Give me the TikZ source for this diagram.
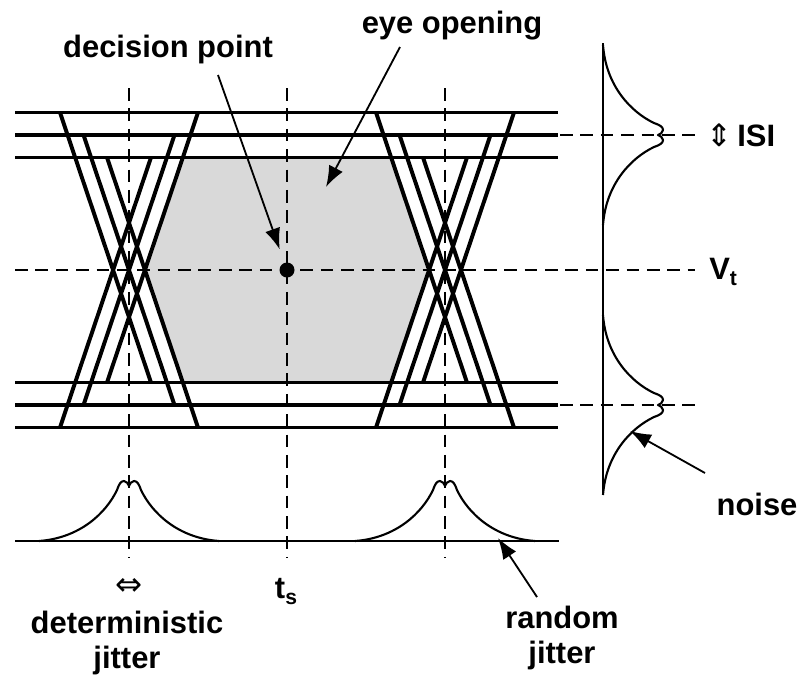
\documentclass[tikz,border=0pt]{standalone}
\usepackage{fontspec}
\setmainfont{Liberation Sans}
\newfontfamily\symfont{DejaVu Sans}
\usetikzlibrary{arrows.meta}

\tikzset{
  eyeline/.style={line width=2.8pt},
  guide/.style={line width=1.3pt, dash pattern=on 9pt off 5.5pt},
  curve/.style={line width=1.5pt},
  pointer/.style={line width=1.3pt, -{Latex[length=15pt,width=11pt]}},
  lbl/.style={font=\fontsize{22}{25}\selectfont\bfseries, inner sep=0pt}
}
\newcommand{\lowtxt}[1]{\raisebox{-0.22em}{\fontsize{15}{15}\selectfont #1}}

\begin{document}
\begin{tikzpicture}[x=0.25mm, y=-0.25mm, line join=round]
  \useasboundingbox (0,0) rectangle (800,683);

  % eye opening
  \fill[black!15] (182.8,157.5) -- (145,270) -- (182.8,382.5)
    -- (391.2,382.5) -- (429,270) -- (391.2,157.5) -- cycle;

  % guide lines
  \draw[guide] (15,270) -- (695,270);
  \draw[guide] (560,135) -- (695,135);
  \draw[guide] (560,405) -- (695,405);
  \foreach \x in {129,287,445}
    \draw[guide] (\x,88) -- (\x,557);

  % signal levels
  \foreach \y in {112.5,135,157.5,382.5,405,427.5}
    \draw[eyeline] (15,\y) -- (558,\y);

  % transitions
  \foreach \c in {129,445}
    \foreach \k in {0,1,2} {
      \draw[eyeline] ({\c-69+23.5*\k},{112.5+22.5*\k}) -- ({\c+22+23.5*\k},{382.5+22.5*\k});
      \draw[eyeline] ({\c-69+23.5*\k},{427.5-22.5*\k}) -- ({\c+22+23.5*\k},{157.5-22.5*\k});
    }

  \node[circle, fill, inner sep=0pt, minimum size=3.75mm] (dp) at (287,270) {};

  % histograms
  \draw[curve] (15,541) -- (559,541);
  \draw[curve] (603,43) -- (603,492);
  \foreach \px/\py/\rot in {129/541/0,445/541/0,603/135/-90,603/405/-90}
    \draw[curve, shift={(\px,\py)}, rotate=\rot]
      (-90,0) .. controls (-49,-3) and (-23,-28) .. (-12,-51)
      .. controls (-10,-57) and (-8,-60) .. (-5,-60)
      .. controls (-2,-60) and (-1,-57) .. (0,-55)
      .. controls (1,-57) and (2,-60) .. (5,-60)
      .. controls (8,-60) and (10,-57) .. (12,-51)
      .. controls (23,-28) and (49,-3) .. (90,0);

  % labels
  \node[lbl, anchor=base] (decLbl) at (168,57) {decision point};
  \node[lbl, anchor=base] (eyeLbl) at (452,33) {eye opening};
  \node[lbl, anchor=west] (isiLbl) at (706,135) {{\symfont\mdseries ⇕}\,ISI};
  \node[lbl, anchor=base west] (vtLbl) at (709,279) {V\lowtxt{t}};
  \node[lbl, anchor=base] (noiseLbl) at (757,515) {noise};
  \node[lbl, anchor=north, align=center] (rjLbl) at (562,606) {random\\jitter};
  \node[lbl, anchor=north, align=center] (djLbl) at (127,611) {deterministic\\jitter};
  \node[lbl, font=\symfont\fontsize{23}{25}\selectfont] (djArrow) at (129,587) {⇔};
  \node[lbl, anchor=base] (tsLbl) at (286,598) {t\lowtxt{s}};

  % pointers
  \coordinate (decTail) at (218,75);
  \coordinate (eyeTail) at (400,47);
  \coordinate (eyeTip) at (326,187);
  \coordinate (noiseTail) at (705,473);
  \coordinate (noiseTip) at (630,431);
  \coordinate (rjTail) at (537,597);
  \coordinate (rjTip) at (498,538);
  \draw[pointer, shorten >=10pt] (decTail) -- (dp);
  \draw[pointer] (eyeTail) -- (eyeTip);
  \draw[pointer] (noiseTail) -- (noiseTip);
  \draw[pointer] (rjTail) -- (rjTip);
\end{tikzpicture}
\end{document}
